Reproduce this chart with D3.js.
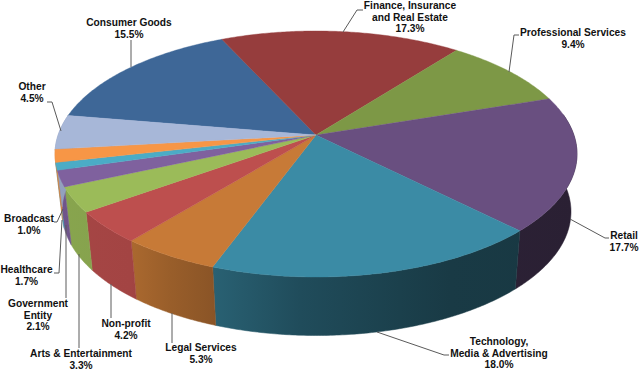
<!DOCTYPE html>
<html><head><meta charset="utf-8">
<script src="https://cdn.jsdelivr.net/npm/d3@7"></script>
<style>html,body{margin:0;padding:0;background:#fff}svg{display:block}
text{font-family:"Liberation Sans",Arial,sans-serif;font-weight:700;font-size:10.2px;fill:#111;text-anchor:middle}</style>
</head><body><svg id="c" width="639" height="371"></svg>
<script>
// clockwise from Consumer Goods
const categories=["Consumer Goods","Finance, Insurance and Real Estate","Professional Services","Retail","Technology, Media & Advertising","Legal Services","Non-profit","Arts & Entertainment","Government Entity","Broadcast","Healthcare","Other"];
const shares=[15.5,17.3,9.4,17.7,18.0,5.3,4.2,3.3,2.1,1.0,1.7,4.5];
const colors=["#3e6797","#963d3d","#7d9846","#694f80","#3b8ba5","#c77a37","#bd4f4e","#9bbb59","#7f619e","#4bacc6","#f79646","#a7b7d8"];

// annotation layout (not data)
const labelLines=[["Consumer Goods","15.5%"],["Finance, Insurance","and Real Estate","17.3%"],["Professional Services","9.4%"],["Retail","17.7%"],["Technology,","Media & Advertising","18.0%"],["Legal Services","5.3%"],["Non-profit","4.2%"],["Arts & Entertainment","3.3%"],["Government","Entity","2.1%"],["Broadcast","1.0%"],["Healthcare","1.7%"],["Other","4.5%"]];
const labelX=[129,410,573,624,499,201,126,81,38,29,26.5,32];
const labelY=[26,9,36,239,345,351,327,357,307,222,273,90];
const lineStep=11.7;
const leaders=[[[131,67],[131,40]],[[343,32],[357,10],[363,10]],[[509,72],[514,35],[519,35]],[[570,219],[605,238],[609,238]],[[377,332],[444,355],[449,355]],[[172,313],[172,343]],[[111,284],[111,318]],[[79,254],[79,348]],[[66,225],[66,298]],[[63,209],[57,222],[54,222]],[[62,220],[59,273],[54,273]],[[61,131],[52,102],[47,102]]];

const svg=d3.select("#c");
const tilt=-0.154;
const startDeg=-80.4;
const top_={x:d3.scaleLinear([-1,1],[55,577]),y:d3.scaleLinear([-1,1],[31,277])};
const bot={x:d3.scaleLinear([-1,1],[62,571]),y:d3.scaleLinear([-1,1],[88,335.5])};
// perspective: map a point of the unit disc to the projected disc
function proj(r,ang,e){
  const u=r*Math.sin(ang),v=-r*Math.cos(ang),d=1+tilt*v;
  return [e.x(u*Math.sqrt(1-tilt*tilt)/d),e.y((v+tilt)/d)];
}
const s0=startDeg*Math.PI/180;
const arcs=d3.pie().sort(null).startAngle(s0).endAngle(s0+2*Math.PI)(shares);
const line=d3.line();
const arcPts=(a,b,e)=>{const n=Math.max(2,Math.ceil((b-a)/0.01));
  return d3.range(n+1).map(i=>proj(1,a+(b-a)*i/n,e));};

// wall shading varies along x
const shadeX=[55,130,170,212,300,400,450,577];
const shadeK=[0.88,0.86,0.77,0.7,0.55,0.46,0.42,0.4];
const shade=d3.scaleLinear(shadeX,shadeK);
const defs=svg.append("defs");
arcs.forEach((d,i)=>{
  const g=defs.append("linearGradient").attr("id","w"+i).attr("gradientUnits","userSpaceOnUse")
    .attr("x1",55).attr("x2",577).attr("y1",0).attr("y2",0);
  shadeX.forEach(x=>{const c=d3.rgb(colors[i]),k=shade(x);
    g.append("stop").attr("offset",(x-55)/522).attr("stop-color",d3.rgb(c.r*k,c.g*k,c.b*k));});
});
// walls: only the near half, far ones first
const nearA=80*Math.PI/180,nearB=280*Math.PI/180;
const walls=[];
arcs.forEach((d,i)=>{[0,2*Math.PI,-2*Math.PI].forEach(off=>{
  const a=Math.max(d.startAngle+off,nearA),b=Math.min(d.endAngle+off,nearB);
  if(b>a) walls.push({i,a,b});});});
svg.append("g").selectAll("path").data(walls).join("path")
  .attr("fill",w=>`url(#w${w.i})`).attr("stroke",w=>`url(#w${w.i})`).attr("stroke-width",0.5)
  .attr("d",w=>line(arcPts(w.a,w.b,top_).concat(arcPts(w.a,w.b,bot).reverse()))+"Z");
// top face
svg.append("g").selectAll("path").data(arcs).join("path")
  .attr("fill",(d,i)=>colors[i]).attr("stroke",(d,i)=>colors[i]).attr("stroke-width",0.4)
  .attr("d",d=>line([proj(0,0,top_)].concat(arcPts(d.startAngle,d.endAngle,top_)))+"Z");
// leaders
svg.append("g").selectAll("path").data(leaders).join("path")
  .attr("fill","none").attr("stroke","#5a5a5a").attr("stroke-width",1).attr("d",d=>line(d));
// labels
const lab=svg.append("g").selectAll("text").data(labelLines).join("text")
  .attr("transform",(d,i)=>`translate(${labelX[i]},${labelY[i]})`);
lab.selectAll("tspan").data(d=>d).join("tspan").attr("x",0).attr("y",(d,j)=>j*lineStep).text(d=>d);
</script></body></html>
